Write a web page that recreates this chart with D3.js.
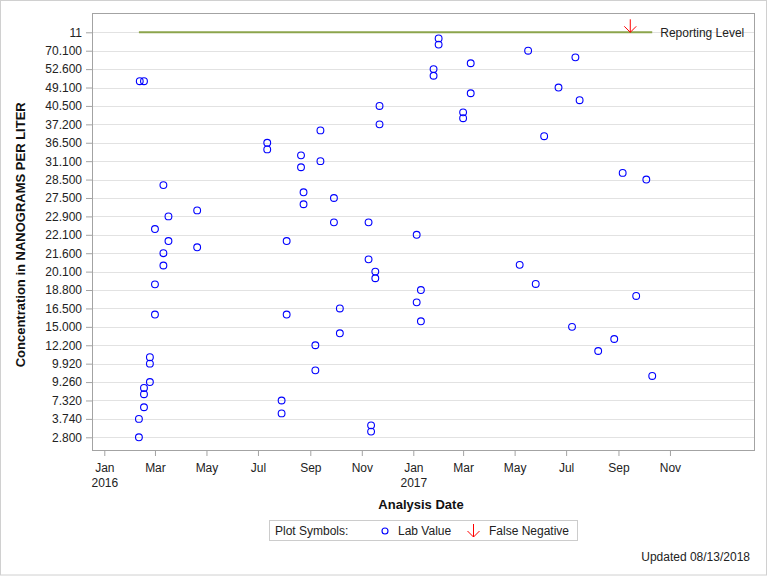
<!DOCTYPE html>
<html>
<head>
<meta charset="utf-8">
<script src="https://cdn.jsdelivr.net/npm/d3@7"></script>
<style>
  html, body { margin: 0; padding: 0; background: #fff; }
  svg { display: block; font-family: "Liberation Sans", Arial, sans-serif; }
</style>
</head>
<body>
<svg id="chart" width="768" height="576"></svg>
<script>
// ---------------- DATA ----------------
const sampleDates = [
  "2016-02-11","2016-02-11","2016-02-12","2016-02-17","2016-02-17","2016-02-17","2016-02-17",
  "2016-02-24","2016-02-24","2016-02-24","2016-03-01","2016-03-01","2016-03-01",
  "2016-03-11","2016-03-11","2016-03-11","2016-03-17","2016-03-17","2016-04-20","2016-04-20",
  "2016-07-12","2016-07-12","2016-07-29","2016-07-29","2016-08-04","2016-08-04",
  "2016-08-21","2016-08-21","2016-08-24","2016-08-24","2016-09-07","2016-09-07",
  "2016-09-13","2016-09-13","2016-09-29","2016-09-29","2016-10-06","2016-10-06",
  "2016-11-09","2016-11-09","2016-11-12","2016-11-12","2016-11-17","2016-11-17",
  "2016-11-22","2016-11-22","2017-01-05","2017-01-05","2017-01-10","2017-01-10",
  "2017-01-25","2017-01-25","2017-01-31","2017-01-31","2017-03-01","2017-03-01",
  "2017-03-10","2017-03-10","2017-05-07","2017-05-17","2017-05-26","2017-06-05",
  "2017-06-22","2017-07-08","2017-07-12","2017-07-17","2017-08-08","2017-08-27",
  "2017-09-06","2017-09-22","2017-10-04","2017-10-11"
];
const sampleValues = [
  3.74, 2.8, 50.3, 50.3, 8.64, 7.98, 6.0,
  10.72, 9.92, 9.26, 22.35, 19.2, 16.0,
  28.2, 21.6, 20.6, 22.9, 21.93, 24.4, 21.76,
  36.5, 34.55, 7.32, 4.81, 21.93, 16.0,
  32.8, 30.24, 27.81, 25.93, 12.2, 9.68,
  36.97, 31.1, 27.5, 22.64, 16.5, 14.02,
  22.64, 21.1, 3.41, 3.09, 20.1, 19.63,
  40.5, 37.2, 22.1, 17.26, 18.8, 15.45,
  52.6, 51.34, 81.8, 75.9, 39.35, 38.3,
  58.2, 46.43, 20.65, 70.1, 19.23, 36.75,
  49.1, 15.0, 63.8, 43.17, 11.49, 13.15,
  29.44, 18.06, 28.5, 9.48
];
// y axis: discrete-like value ladder (evenly spaced rows); top row is the reporting level row
const yTickValues = [2.8, 3.74, 7.32, 9.26, 9.92, 12.2, 15.0, 16.5, 18.8, 20.1, 21.6, 22.1,
  22.9, 27.5, 28.5, 31.1, 36.5, 37.2, 40.5, 49.1, 52.6, 70.1, 87.6];
const yTickLabels = ["2.800","3.740","7.320","9.260","9.920","12.200","15.000","16.500","18.800",
  "20.100","21.600","22.100","22.900","27.500","28.500","31.100","36.500","37.200","40.500",
  "49.100","52.600","70.100","11"];
const reportingRowValue = 87.6;   // row labelled "11"
const reportingStart = "2016-02-11", reportingEnd = "2017-10-11";
const falseNegativeDates = ["2017-09-15"];
const monthTicks = ["2016-01-01","2016-03-01","2016-05-01","2016-07-01","2016-09-01","2016-11-01",
  "2017-01-01","2017-03-01","2017-05-01","2017-07-01","2017-09-01","2017-11-01"];

// ---------------- LAYOUT ----------------
const svg = d3.select("#chart");
const frame = {left: 92, right: 754, top: 13, bottom: 450};
const parse = d3.utcParse("%Y-%m-%d");

const x = d3.scaleUtc()
  .domain([parse("2016-01-01"), parse("2017-01-01")])
  .range([104.3, 413.3]);

const yTop = 32.3, yBottom = 437.3;
const step = (yBottom - yTop) / (yTickValues.length - 1);
const y = d3.scaleLinear()
  .domain(yTickValues)
  .range(yTickValues.map((d, i) => yBottom - i * step));

// outer border
svg.append("rect").attr("x", 0.5).attr("y", 0.5).attr("width", 766).attr("height", 574.5)
  .attr("fill", "none").attr("stroke", "#d0d0d0");

// gridlines
svg.append("g").selectAll("line").data(yTickValues).join("line")
  .attr("x1", frame.left).attr("x2", frame.right)
  .attr("y1", d => Math.round(y(d)) + 0.5).attr("y2", d => Math.round(y(d)) + 0.5)
  .attr("stroke", "#e2e2e2").attr("stroke-width", 1);

// frame
svg.append("rect").attr("x", frame.left + 0.5).attr("y", frame.top + 0.5)
  .attr("width", frame.right - frame.left).attr("height", frame.bottom - frame.top)
  .attr("fill", "none").attr("stroke", "#a3a3a3");

// y axis
const yAxis = d3.axisLeft(y).tickValues(yTickValues).tickSize(6).tickPadding(4)
  .tickFormat((d, i) => yTickLabels[i]);
const gy = svg.append("g").attr("transform", `translate(${frame.left},0)`).call(yAxis);
gy.select(".domain").remove();
gy.selectAll(".tick line").attr("stroke", "#a3a3a3");
gy.selectAll(".tick text").attr("font-size", 12).attr("fill", "#222")
  .attr("font-family", "Liberation Sans, Arial, sans-serif");

// x axis
const xTicks = monthTicks.map(parse);
const fmtMon = d3.utcFormat("%b"), fmtYear = d3.utcFormat("%Y");
const xAxis = d3.axisBottom(x).tickValues(xTicks).tickSize(6).tickPadding(7).tickFormat(fmtMon);
const gx = svg.append("g").attr("transform", `translate(0,${frame.bottom})`).call(xAxis);
gx.select(".domain").remove();
gx.selectAll(".tick line").attr("stroke", "#a3a3a3");
gx.selectAll(".tick text").attr("font-size", 12).attr("fill", "#222")
  .attr("font-family", "Liberation Sans, Arial, sans-serif")
  .each(function(d) {
    if (d.getUTCMonth() === 0) {
      d3.select(this).append("tspan").attr("x", 0).attr("dy", "1.25em").text(fmtYear(d));
    }
  });

// axis titles
svg.append("text").attr("x", 421).attr("y", 509).attr("text-anchor", "middle")
  .attr("font-size", 13).attr("font-weight", "bold").attr("fill", "#111").text("Analysis Date");
svg.append("text").attr("transform", `translate(25,${(yTop + yBottom) / 2}) rotate(-90)`)
  .attr("text-anchor", "middle").attr("font-size", 13).attr("font-weight", "bold")
  .attr("fill", "#111").text("Concentration in NANOGRAMS PER LITER");

// reporting level line
const yRep = y(reportingRowValue);
svg.append("line")
  .attr("x1", x(parse(reportingStart))).attr("x2", x(parse(reportingEnd)))
  .attr("y1", yRep).attr("y2", yRep)
  .attr("stroke", "#8ca54c").attr("stroke-width", 2);
svg.append("text").attr("x", x(parse(reportingEnd)) + 8).attr("y", yRep).attr("dy", "0.35em")
  .attr("font-size", 12).attr("fill", "#222").text("Reporting Level");

// arrow helper
function arrow(g, cx, tipY) {
  g.append("line").attr("x1", cx).attr("x2", cx).attr("y1", tipY - 13).attr("y2", tipY)
    .attr("stroke", "#ff0000").attr("stroke-width", 1);
  g.append("path").attr("d", `M${cx - 6},${tipY - 6}L${cx},${tipY}L${cx + 6},${tipY - 6}`)
    .attr("fill", "none").attr("stroke", "#ff0000").attr("stroke-width", 1);
}
falseNegativeDates.forEach(d => arrow(svg, x(parse(d)), yRep));

// points
const pts = sampleDates.map((d, i) => ({date: parse(d), value: sampleValues[i]}));
svg.append("g").selectAll("circle").data(pts).join("circle")
  .attr("cx", d => x(d.date)).attr("cy", d => y(d.value)).attr("r", 3.4)
  .attr("fill", "none").attr("stroke", "#0000ff").attr("stroke-width", 1.1);

// legend
const lg = svg.append("g");
lg.append("rect").attr("x", 269.5).attr("y", 520.5).attr("width", 308).attr("height", 20)
  .attr("fill", "#fff").attr("stroke", "#cccccc");
lg.append("text").attr("x", 275).attr("y", 531).attr("dy", "0.35em").attr("font-size", 12)
  .attr("fill", "#222").text("Plot Symbols:");
lg.append("circle").attr("cx", 385).attr("cy", 531).attr("r", 3)
  .attr("fill", "none").attr("stroke", "#0000ff").attr("stroke-width", 1.1);
lg.append("text").attr("x", 398).attr("y", 531).attr("dy", "0.35em").attr("font-size", 12)
  .attr("fill", "#222").text("Lab Value");
arrow(lg, 473.5, 537);
lg.append("text").attr("x", 489).attr("y", 531).attr("dy", "0.35em").attr("font-size", 12)
  .attr("fill", "#222").text("False Negative");

svg.append("text").attr("x", 750).attr("y", 561).attr("text-anchor", "end")
  .attr("font-size", 12).attr("fill", "#222").text("Updated 08/13/2018");
</script>
</body>
</html>
